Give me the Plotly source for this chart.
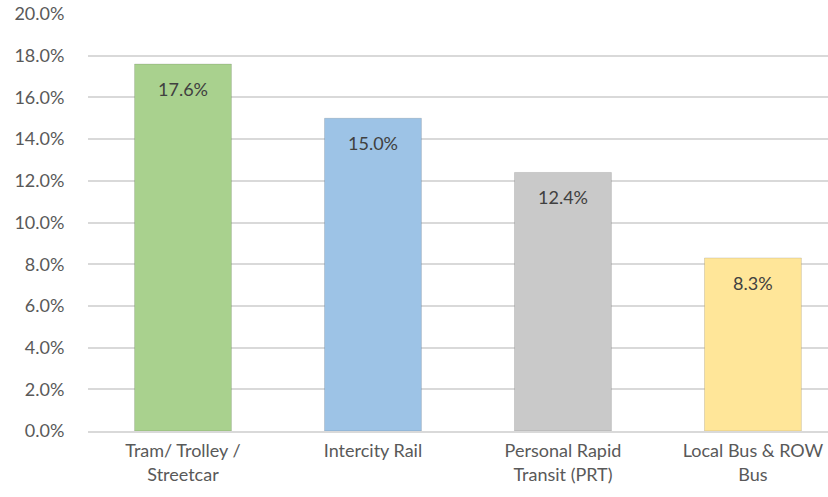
import plotly.graph_objects as go

categories = ["Tram/ Trolley /<br>Streetcar", "Intercity Rail",
              "Personal Rapid<br>Transit (PRT)", "Local Bus & ROW<br>Bus"]
values = [0.176, 0.150, 0.124, 0.083]
colors = ["#a9d18e", "#9dc3e6", "#c9c9c9", "#ffe699"]
y_ticks = [i / 100 for i in range(0, 21, 2)]

fig = go.Figure()

fig.add_trace(go.Bar(
    x=list(range(len(categories))),
    y=values,
    width=0.51,
    marker=dict(color=colors, line=dict(color="rgba(0,0,0,0.12)", width=1)),
    hoverinfo="skip",
))

# data labels sit inside the bar, a little below the top
for i, v in enumerate(values):
    fig.add_annotation(
        x=i, y=v, text=f"{v * 100:.1f}%",
        showarrow=False, yanchor="middle", yshift=-25,
        font=dict(family="Lato, sans-serif", size=18, color="#404040"),
    )

fig.update_layout(
    width=828, height=497,
    paper_bgcolor="white",
    plot_bgcolor="white",
    showlegend=False,
    margin=dict(l=88, r=0, t=14, b=66),
    font=dict(family="Lato, sans-serif", size=18, color="#595959"),
    xaxis=dict(
        range=[-0.5, 3.395],
        tickmode="array",
        tickvals=list(range(len(categories))),
        ticktext=categories,
        showgrid=False,
        showline=True,
        linecolor="#d9d9d9",
        linewidth=1.5,
        ticks="outside",
        ticklen=3,
        tickcolor="white",
        automargin=False,
        tickfont=dict(size=18, color="#595959"),
    ),
    yaxis=dict(
        range=[0, 0.2],
        tickvals=y_ticks,
        tickformat=".1%",
        showgrid=True,
        gridcolor="#d9d9d9",
        gridwidth=1.5,
        zeroline=False,
        ticks="outside",
        ticklen=19,
        tickcolor="white",
        automargin=False,
        tickfont=dict(size=18, color="#595959"),
    ),
)

# drop the default body margin so the figure fills the window exactly
fig.write_html(
    "out.html",
    config={"displayModeBar": False},
    post_script="document.body.style.margin = '0';",
)
